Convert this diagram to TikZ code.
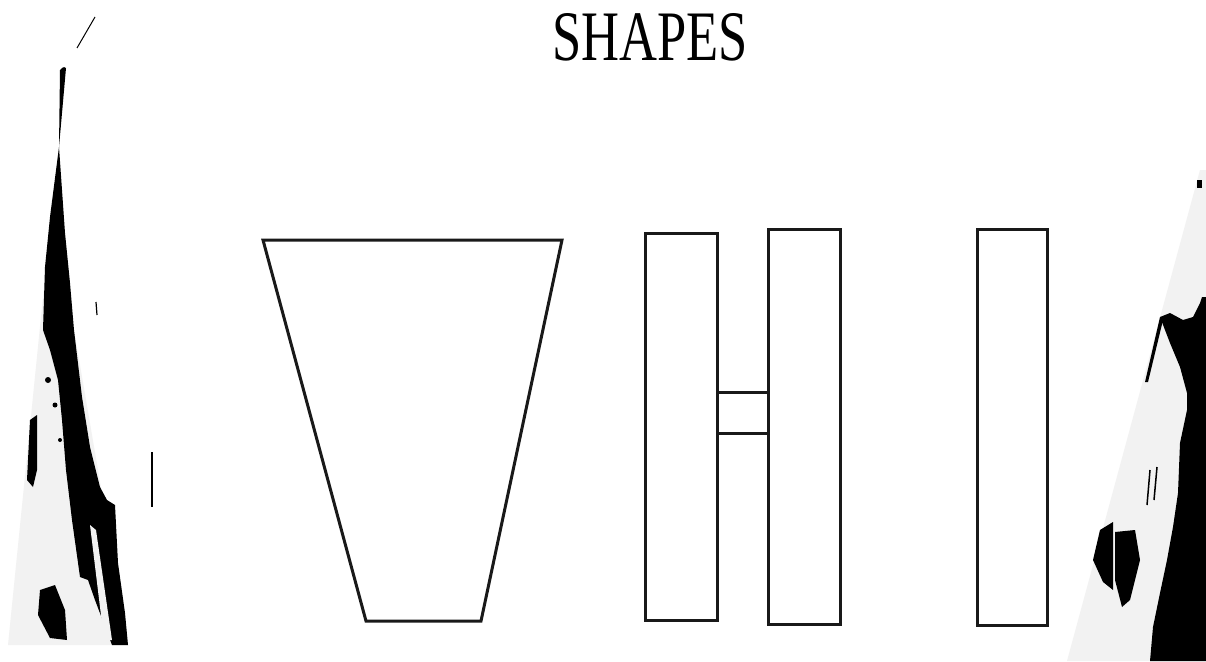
\documentclass[tikz,border=0pt]{standalone}
\usepackage{fontspec}
\setmainfont{Liberation Serif}
\begin{document}
\begin{tikzpicture}[x=1pt,y=-1pt,
  outline/.style={draw=black!90, line width=3pt},
  smudge/.style={fill=black, draw=none},
  haze/.style={fill=black!5, draw=none}]
\useasboundingbox (0,0) rectangle (1206,661);
\fill[white] (0,0) rectangle (1206,661);
% title
\node[inner sep=0pt, anchor=center] (title) at (650,37)
  {\scalebox{0.74}[1]{\fontsize{71}{71}\selectfont SHAPES}};
% trapezoid
\draw[outline] (263,240) -- (562,240) -- (481,621) -- (366,621) -- cycle;
% H shape
\draw[outline] (645,233) rectangle (717,620);
\draw[outline] (768,229) rectangle (840,624);
\draw[outline] (717,392) rectangle (768,433);
% I shape
\draw[outline] (977,229) rectangle (1047,625);
% left edge artefacts
\fill[haze] (45,277) -- (74,330) -- (128,645) -- (8,645) -- cycle;
\fill[smudge] (60,70) .. controls (63,66) and (66,67) .. (66,68)
  -- (59,147) -- cycle;
\fill[smudge] (59,147) -- (65,233) -- (70,283) -- (74,330) -- (82,397)
  -- (90,447) -- (100,487) -- (107,500) -- (115,505) -- (118,563)
  -- (125,613) -- (128,645) -- (112,645) -- (95,600) -- (88,580)
  -- (80,577) -- (72,520) -- (66,470) -- (62,420) -- (58,380) -- (50,350)
  -- (43,330) -- (45,267) -- (50,217) -- cycle;
\fill[haze] (90,525) -- (96,530) -- (112,640) -- (104,640) -- cycle;
\fill[smudge] (30,420) -- (37,415) -- (37,470) -- (33,487) -- (27,480) -- cycle;
\fill[smudge] (40,590) -- (55,585) -- (65,610) -- (67,640) -- (50,638)
  -- (38,615) -- cycle;
\fill[smudge] (48,380) circle (3) (55,405) circle (2.5) (60,440) circle (2);
\draw[black, line width=1pt] (77,48) -- (95,17);
\draw[black, line width=1.2pt] (96,302) -- (97,315);
\draw[black, line width=2.5pt] (152,452) -- (152,507);
% right edge artefacts
\fill[haze] (1200,170) -- (1206,170) -- (1206,661) -- (1067,661) -- cycle;
\fill[smudge] (1197,180) rectangle (1202,188);
\fill[smudge] (1206,297) -- (1202,297) -- (1200,303) -- (1193,317)
  -- (1183,320) -- (1170,313) -- (1160,317) -- (1170,343) -- (1180,367)
  -- (1187,393) -- (1187,410) -- (1180,443) -- (1178,493) -- (1173,527)
  -- (1167,560) -- (1160,593) -- (1153,627) -- (1150,661) -- (1206,661)
  -- cycle;
\fill[smudge] (1160,317) -- (1163,320) -- (1148,382) -- (1145,382) -- cycle;
\fill[smudge] (1100,530) -- (1113,522) -- (1113,590) -- (1103,582)
  -- (1093,560) -- cycle;
\fill[smudge] (1115,532) -- (1135,530) -- (1140,560) -- (1130,600)
  -- (1122,607) -- (1115,580) -- cycle;
\draw[black, line width=1.5pt] (1150,470) -- (1147,505)
  (1157,467) -- (1154,500);
\end{tikzpicture}
\end{document}
